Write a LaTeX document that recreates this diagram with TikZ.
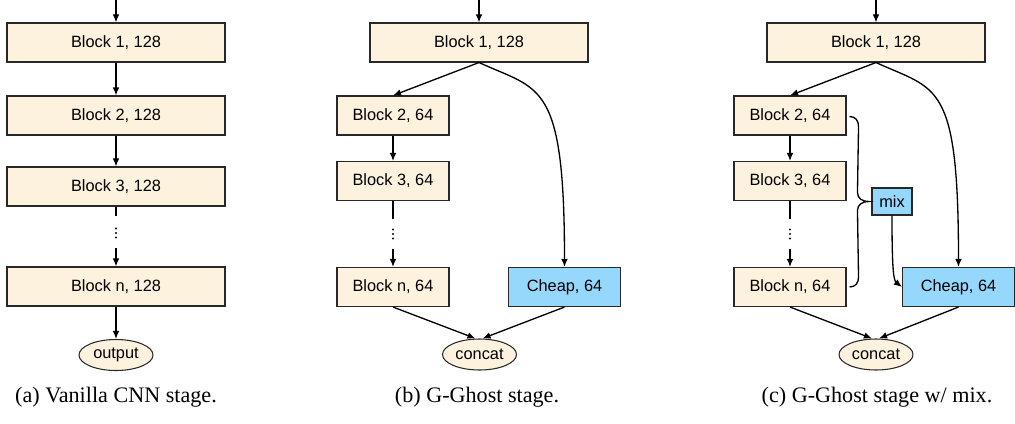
\documentclass[tikz,border=0pt]{standalone}
\usepackage{fontspec}
\setmainfont{Liberation Serif}
\newfontfamily\blksans{Liberation Sans}
\usetikzlibrary{arrows.meta,calc,shapes.geometric}
\definecolor{cream}{RGB}{253,242,221}
\definecolor{skyb}{RGB}{150,216,252}
\definecolor{edgec}{RGB}{40,40,40}
\tikzset{
  blk/.style={draw=edgec, line width=0.6pt, fill=cream, minimum height=39*0.02cm, inner sep=0pt, font=\blksans\fontsize{9.3}{11}\selectfont},
  wide/.style={blk, minimum width=218*0.02cm},
  narrow/.style={blk, minimum width=112*0.02cm},
  cheapbox/.style={blk, fill=skyb, minimum width=112*0.02cm},
  mixbox/.style={blk, fill=skyb, minimum width=40*0.02cm, minimum height=27*0.02cm},
  ell/.style={ellipse, draw=edgec, line width=0.6pt, fill=cream, minimum width=74*0.02cm, minimum height=31*0.02cm, inner sep=0pt, font=\blksans\fontsize{9.3}{11}\selectfont},
  vdotsnode/.style={minimum height=29*0.02cm, minimum width=4*0.02cm, inner sep=0pt},
  conn/.style={line width=0.75pt, draw=black},
  arr/.style={conn, -{Latex[length=4.6pt,width=3.8pt]}},
  captext/.style={font=\fontsize{12.6}{15}\selectfont, inner sep=0pt},
  dotfill/.style={fill=black}
}
\begin{document}
\begin{tikzpicture}[x=0.02cm,y=-0.02cm]
\useasboundingbox (0,0) rectangle (1015,423);
% ---------- (a)
\coordinate (ta) at (116,0);
\node[wide] (a1) at (116,42.5) {Block 1, 128};
\node[wide] (a2) at (116,115.5) {Block 2, 128};
\node[wide] (a3) at (116,186.5) {Block 3, 128};
\node[vdotsnode] (ad) at (116,233) {};
\node[wide] (an) at (116,286.5) {Block n, 128};
\node[ell] (aout) at (116,355) {output};
\draw[arr] (ta) -- (a1.north);
\draw[arr] (a1) -- (a2);
\draw[arr] (a2) -- (a3);
\draw[conn] (a3.south) -- ($(ad.north)+(0,-2)$);
\draw[arr] (ad.south) -- (an.north);
\draw[arr] (an.south) -- (aout.north);
\foreach \d in {-4.5,0,4.5} \fill[dotfill] ($(ad)+(0,\d)$) circle (1.1);
\node[captext] (capa) at (116,397) {(a) Vanilla CNN stage.};
% ---------- (b)
\coordinate (tb) at (479,0);
\node[wide] (b1) at (479,42.5) {Block 1, 128};
\node[narrow] (b2) at (393,115.5) {Block 2, 64};
\node[narrow] (b3) at (393,181) {Block 3, 64};
\node[vdotsnode] (bd) at (393,234) {};
\node[narrow] (bn) at (393,287) {Block n, 64};
\node[cheapbox] (bc) at (564.5,287) {Cheap, 64};
\node[ell] (bcat) at (479.5,354.5) {concat};
\draw[arr] (tb) -- (b1.north);
\draw[arr] (b1.south) -- (b2.north);
\draw[arr] (b2) -- (b3);
\draw[conn] (b3.south) -- (bd.north);
\draw[arr] (bd.south) -- (bn.north);
\foreach \d in {-4.5,0,4.5} \fill[dotfill] ($(bd)+(0,\d)$) circle (1.1);
\draw[arr] (b1.south) .. controls +(61,28) and +(0,-187) .. (bc.north);
\draw[arr] (bn.south) -- ($(bcat.north)+(-4,0)$);
\draw[arr] (bc.south) -- ($(bcat.north)+(3,0)$);
\node[captext] (capb) at (477,397) {(b) G-Ghost stage.};
% ---------- (c)
\coordinate (tc) at (876,0);
\node[wide] (c1) at (876,42.5) {Block 1, 128};
\node[narrow] (c2) at (790,115.5) {Block 2, 64};
\node[narrow] (c3) at (790,181) {Block 3, 64};
\node[vdotsnode] (cd) at (790,234) {};
\node[narrow] (cn) at (790,287) {Block n, 64};
\node[cheapbox] (cc) at (958.5,287) {Cheap, 64};
\node[mixbox] (cmix) at (892,201.5) {mix};
\node[ell] (ccat) at (876,354.5) {concat};
\draw[arr] (tc) -- (c1.north);
\draw[arr] (c1.south) -- (c2.north);
\draw[arr] (c2) -- (c3);
\draw[conn] (c3.south) -- (cd.north);
\draw[arr] (cd.south) -- (cn.north);
\foreach \d in {-4.5,0,4.5} \fill[dotfill] ($(cd)+(0,\d)$) circle (1.1);
\draw[arr] (c1.south) .. controls +(61,28) and +(0,-187) .. (cc.north);
\coordinate (br1) at ($(c2.east)+(3,1)$);
\coordinate (br2) at ($(cn.east)+(3,0)$);
\coordinate (tip) at ($(cmix.west)+(-3,0)$);
\draw[conn] (br1) .. controls +(6,0) and +(0,-6) .. ++(9,10)
  -- ($(tip)+(-11,-9)$) .. controls +(0,6) and +(-6,0) .. (tip)
  .. controls +(-6,0) and +(0,-6) .. ($(tip)+(-11,9)$)
  -- ($(br2)+(9,-10)$) .. controls +(0,6) and +(6,0) .. (br2);
\draw[arr] (cmix.south) .. controls +(0,45) and +(-9,-7) .. (cc.west);
\draw[arr] (cn.south) -- ($(ccat.north)+(-4,0)$);
\draw[arr] (cc.south) -- ($(ccat.north)+(3,0)$);
\node[captext] (capc) at (877,397) {(c) G-Ghost stage w/ mix.};
\end{tikzpicture}
\end{document}
